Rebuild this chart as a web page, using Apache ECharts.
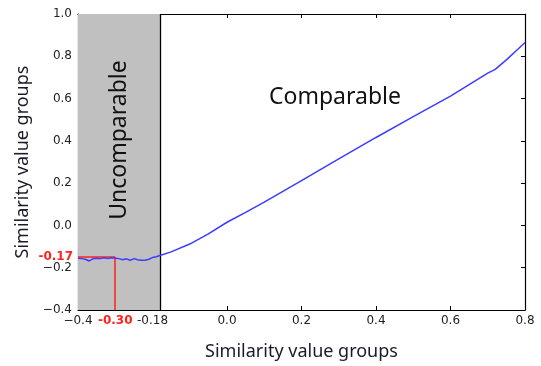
<!DOCTYPE html>
<html>
<head>
<meta charset="utf-8">
<script src="https://cdn.jsdelivr.net/npm/echarts@6/dist/echarts.min.js"></script>
<style>
  html, body { margin: 0; padding: 0; background: #fff; }
  #chart { width: 541px; height: 366px; }
</style>
</head>
<body>
<div id="chart"></div>
<script>
// similarity group (x) and value (y)
const xs = [-0.40, -0.39, -0.38, -0.37, -0.36, -0.35, -0.34, -0.33, -0.32, -0.31, -0.30,
            -0.29, -0.28, -0.27, -0.26, -0.25, -0.24, -0.23, -0.22, -0.21, -0.20, -0.19, -0.18,
            -0.15, -0.10, -0.05, 0.00, 0.05, 0.10, 0.20, 0.30, 0.40, 0.50, 0.60, 0.70, 0.72, 0.75, 0.78, 0.80];
const ys = [-0.155, -0.157, -0.160, -0.168, -0.158, -0.155, -0.157, -0.153, -0.157, -0.153, -0.155,
            -0.157, -0.162, -0.158, -0.165, -0.157, -0.162, -0.165, -0.165, -0.160, -0.152, -0.148, -0.142,
            -0.125, -0.088, -0.040, 0.015, 0.062, 0.110, 0.212, 0.315, 0.416, 0.515, 0.612, 0.720, 0.738, 0.783, 0.832, 0.865];

const xTicks = { '-0.4': '\u22120.4', '-0.2': '-0.18', '0': '0.0', '0.2': '0.2', '0.4': '0.4', '0.6': '0.6', '0.8': '0.8' };
const cutX = -0.18;
const markX = -0.30, markY = -0.15;
const markXLabel = '-0.30', markYLabel = '-0.17';

const fmtY = v => (v < 0 ? '\u2212' : '') + Math.abs(v).toFixed(1);
const tickFont = { fontFamily: 'DejaVu Sans', fontSize: 12, color: '#222' };
const titleFont = { fontFamily: 'Noto Sans', fontSize: 18, color: '#1a1a2a' };
const red = '#ff2020';

const chart = echarts.init(document.getElementById('chart'));

const axisBase = {
    type: 'value',
    axisLine: { show: true, onZero: false, lineStyle: { color: '#000', width: 1.2 } },
    axisTick: { show: true, inside: true, length: 4, lineStyle: { color: '#000' } },
    splitLine: { show: false }
};

const redLabel = { show: true, position: 'start', color: red, fontWeight: 'bold', fontFamily: 'DejaVu Sans', fontSize: 12 };

chart.setOption({
    animation: false,
    grid: { left: 78, right: 16, top: 14, bottom: 54 },
    xAxis: [
        Object.assign({}, axisBase, {
            min: -0.4, max: 0.8, interval: 0.2, position: 'bottom',
            name: 'Similarity value groups', nameLocation: 'middle', nameGap: 33,
            nameTextStyle: titleFont,
            axisLabel: Object.assign({}, tickFont, {
                margin: 5,
                formatter: v => xTicks[String(Math.round(v * 10) / 10)] || ''
            })
        }),
        Object.assign({}, axisBase, {
            min: -0.4, max: 0.8, interval: 0.2, position: 'top', axisLabel: { show: false }
        })
    ],
    yAxis: [
        Object.assign({}, axisBase, {
            min: -0.4, max: 1.0, interval: 0.2, position: 'left',
            name: 'Similarity value groups', nameLocation: 'middle', nameGap: 46,
            nameTextStyle: titleFont,
            axisLabel: Object.assign({}, tickFont, { margin: 6, formatter: fmtY })
        }),
        Object.assign({}, axisBase, {
            min: -0.4, max: 1.0, interval: 0.2, position: 'right', axisLabel: { show: false }
        })
    ],
    series: [{
        type: 'line',
        data: xs.map((x, i) => [x, ys[i]]),
        showSymbol: false,
        lineStyle: { color: '#3c3cff', width: 1.5 },
        z: 5,
        markArea: {
            silent: true,
            itemStyle: { color: '#c0c0c0' },
            data: [[{ xAxis: -0.4 }, { xAxis: cutX }]]
        },
        markLine: {
            silent: true,
            symbol: 'none',
            data: [
                [{ coord: [cutX, -0.4], lineStyle: { color: '#000', width: 1.3, type: 'solid', opacity: 1 }, label: { show: false } },
                 { coord: [cutX, 1.0] }],
                [{ coord: [markX, -0.4], lineStyle: { color: red, width: 1.5, type: 'solid', opacity: 1 },
                   label: Object.assign({ formatter: markXLabel, distance: 5 }, redLabel) },
                 { coord: [markX, markY] }],
                [{ coord: [-0.4, markY], lineStyle: { color: red, width: 1.5, type: 'solid', opacity: 1 },
                   label: Object.assign({ formatter: markYLabel, distance: 5 }, redLabel) },
                 { coord: [markX, markY] }]
            ]
        }
    }],
    graphic: [
        {
            type: 'text', x: 119, y: 140, rotation: Math.PI / 2,
            style: { text: 'Uncomparable', font: '23px "Noto Sans"', fill: '#111', align: 'center', verticalAlign: 'middle' },
            z: 10
        },
        {
            type: 'text', x: 335, y: 97,
            style: { text: 'Comparable', font: '23px "Noto Sans"', fill: '#111', align: 'center', verticalAlign: 'middle' },
            z: 10
        }
    ]
});
</script>
</body>
</html>
